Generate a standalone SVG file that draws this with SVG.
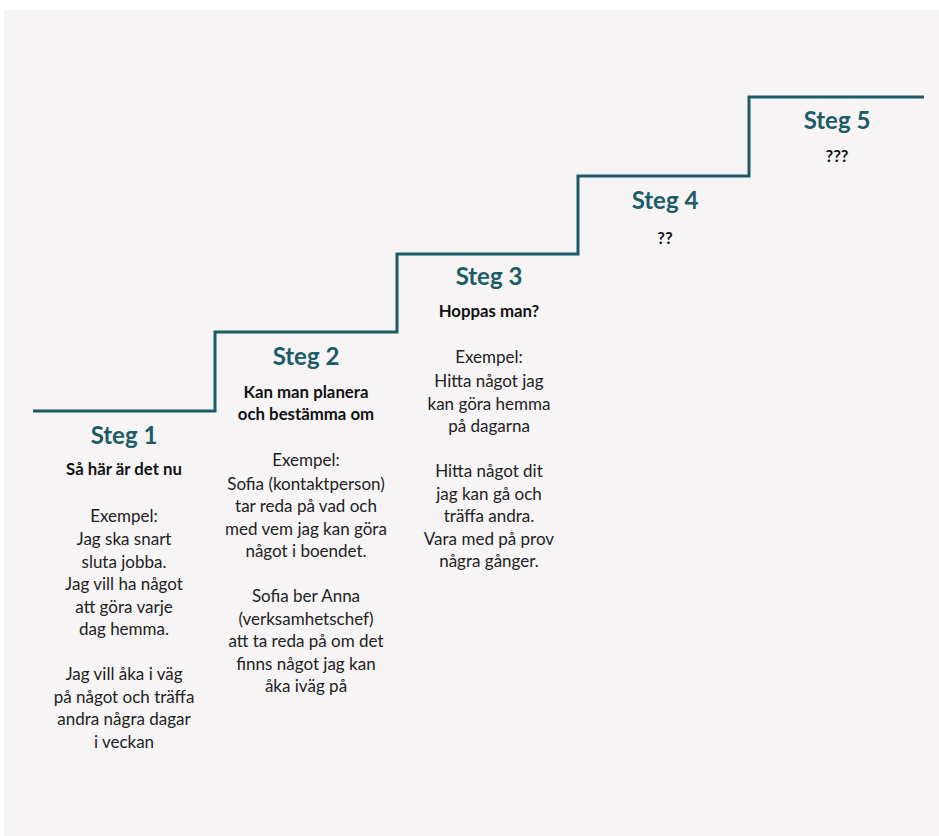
<svg xmlns="http://www.w3.org/2000/svg" width="939" height="836" viewBox="0 0 939 836">
<style>
.t{font-family:Lato,"Open Sans","Liberation Sans",sans-serif;text-anchor:middle}
.h{font-size:24px;font-weight:700;fill:#1b5c66}
.s{font-size:16.8px;font-weight:700;fill:#111}
.b{font-size:17px;fill:#222}
</style>
<rect width="939" height="836" fill="#ffffff"/>
<rect x="4" y="10" width="935" height="826" fill="#f6f4f5"/>
<g id="connectors">
<path d="M33 411 H215 V332 H397 V254 H578 V176 H749 V97 H924" fill="none" stroke="#1b5c66" stroke-width="3"/>
</g>
<g id="step1" class="t">
<text x="124" y="444" class="t h">Steg 1</text>
<text x="124" y="475" class="t s">Så här är det nu</text>
<text class="t b"><tspan x="124" y="522">Exempel:</tspan><tspan x="124" y="545">Jag ska snart</tspan><tspan x="124" y="568">sluta jobba.</tspan><tspan x="124" y="590">Jag vill ha något</tspan><tspan x="124" y="613">att göra varje</tspan><tspan x="124" y="635">dag hemma.</tspan><tspan x="124" y="680">Jag vill åka i väg</tspan><tspan x="124" y="703">på något och träffa</tspan><tspan x="124" y="725">andra några dagar</tspan><tspan x="124" y="748">i veckan</tspan></text>
</g>
<g id="step2" class="t">
<text x="306" y="365" class="t h">Steg 2</text>
<text class="t s"><tspan x="306" y="398">Kan man planera</tspan><tspan x="306" y="420">och bestämma om</tspan></text>
<text class="t b"><tspan x="306" y="466">Exempel:</tspan><tspan x="306" y="490">Sofia (kontaktperson)</tspan><tspan x="306" y="512">tar reda på vad och</tspan><tspan x="306" y="535">med vem jag kan göra</tspan><tspan x="306" y="557">något i boendet.</tspan><tspan x="306" y="602">Sofia ber Anna</tspan><tspan x="306" y="625">(verksamhetschef)</tspan><tspan x="306" y="647">att ta reda på om det</tspan><tspan x="306" y="670">finns något jag kan</tspan><tspan x="306" y="692">åka iväg på</tspan></text>
</g>
<g id="step3" class="t">
<text x="489" y="285" class="t h">Steg 3</text>
<text x="489" y="317" class="t s">Hoppas man?</text>
<text class="t b"><tspan x="489" y="363">Exempel:</tspan><tspan x="489" y="387">Hitta något jag</tspan><tspan x="489" y="410">kan göra hemma</tspan><tspan x="489" y="432">på dagarna</tspan><tspan x="489" y="477">Hitta något dit</tspan><tspan x="489" y="500">jag kan gå och</tspan><tspan x="489" y="522">träffa andra.</tspan><tspan x="489" y="545">Vara med på prov</tspan><tspan x="489" y="567">några gånger.</tspan></text>
</g>
<g id="step4" class="t">
<text x="665" y="209" class="t h">Steg 4</text>
<text x="665" y="244" class="t s">??</text>
</g>
<g id="step5" class="t">
<text x="837" y="129" class="t h">Steg 5</text>
<text x="837" y="162" class="t s">???</text>
</g>
</svg>
